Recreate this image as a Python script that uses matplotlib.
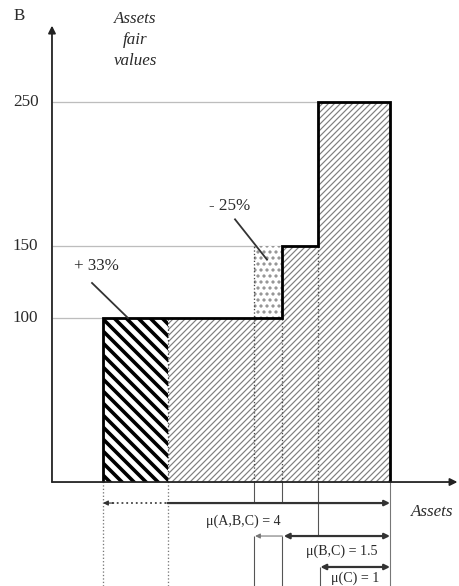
import matplotlib
matplotlib.use("Agg")
import matplotlib.pyplot as plt
import numpy as np

# ---- data ----
step_edges = [0, 2.5, 3, 4]          # asset positions of fair value steps
step_values = [100, 150, 250]        # assets fair values
gain_edges = [0, 0.9]                # +33% block
gain_value = 100
loss_edges = [2.1, 2.5]              # -25% block
loss_range = [100, 150]
segment_edges = [0, 0.9, 2.1, 2.5, 3, 4]
segment_values = [100, 100, 100, 150, 250]
yticks = [100, 150, 250]
mu_labels = ["μ(A,B,C) = 4", "μ(B,C) = 1.5", "μ(C) = 1"]
mu_starts = [0, 2.5, 3]
mu_end = 4

SERIF = "Liberation Serif"
TXT = '#2a2a2a'
DPI = 72
fig = plt.figure(figsize=(459 / DPI, 586 / DPI), dpi=DPI)
ax = fig.add_axes([0, 0, 1, 1])
ax.set_xlim(-1.4355, 4.9617)
ax.set_ylim(-86.1, 320.8)
ax.axis("off")

base = -13.9
yaxis_x = -0.711

def set_hlw(p, w):
    try:
        p.set_hatch_linewidth(w)
    except Exception:
        pass

# gray hatched segments
for i in range(1, len(segment_values)):
    x0, x1 = segment_edges[i], segment_edges[i + 1]
    plt.rcParams['hatch.linewidth'] = 1.2
    bars = ax.bar(x0, segment_values[i] - base, width=x1 - x0, bottom=base,
                  align='edge', facecolor='white', edgecolor='#7f7f7f',
                  hatch='////', linewidth=0, zorder=2)
    for b in bars:
        set_hlw(b, 1.2)

# black hatched gain block
plt.rcParams['hatch.linewidth'] = 3.6
bars = ax.bar(gain_edges[0], gain_value - base, width=gain_edges[1] - gain_edges[0],
              bottom=base, align='edge', facecolor='white', edgecolor='black',
              hatch='\\\\', linewidth=0, zorder=2)
for b in bars:
    set_hlw(b, 3.6)

# dotted loss block
plt.rcParams['hatch.linewidth'] = 2.0
bars = ax.bar(loss_edges[0], loss_range[1] - loss_range[0],
              width=loss_edges[1] - loss_edges[0], bottom=loss_range[0],
              align='edge', facecolor='white', edgecolor='#909090',
              hatch='..', linewidth=0, zorder=2)
for b in bars:
    set_hlw(b, 2.0)

# dotted internal separators
ax.vlines([0.9, 2.5], base, 100, colors='#444444', linestyles=':', lw=1.3, zorder=3)
ax.vlines([2.1, 3], base, [150, 150], colors='#444444', linestyles=':', lw=1.3, zorder=3)

# outline
ax.stairs(step_values, step_edges, baseline=base, color='black', lw=2.8, zorder=4)

# horizontal guide lines
ax.hlines(250, yaxis_x, 3, colors='#bdbdbd', lw=1.3, zorder=1)
ax.hlines(150, yaxis_x, 2.5, colors='#bdbdbd', lw=1.3, zorder=1)
ax.hlines(100, yaxis_x, 0, colors='#bdbdbd', lw=1.3, zorder=1)

# axes with arrows
ax.annotate('', xy=(4.94, base), xytext=(yaxis_x, base),
            arrowprops=dict(arrowstyle='-|>', lw=1.8, color='#222222',
                            mutation_scale=15, shrinkA=0, shrinkB=0), zorder=5)
ax.annotate('', xy=(yaxis_x, 303), xytext=(yaxis_x, base),
            arrowprops=dict(arrowstyle='-|>', lw=1.8, color='#222222',
                            mutation_scale=15, shrinkA=0, shrinkB=0), zorder=5)

for v in yticks:
    ax.text(-0.9, v, str(v), ha='right', va='center', fontsize=17,
            family=SERIF, color=TXT)

ax.text(-1.17, 310, "B", ha='center', va='center', fontsize=17,
        family=SERIF, color=TXT)
ax.text(0.446, 293, "Assets\nfair\nvalues", ha='center', va='center',
        fontsize=17, family=SERIF, style='italic', color=TXT,
        linespacing=1.38)
ax.text(4.585, -34.7, "Assets", ha='center', va='center', fontsize=17,
        family=SERIF, style='italic', color=TXT)

# percentage labels with leaders
ax.text(-0.098, 136.1, "+ 33%", ha='center', va='center', fontsize=17,
        family=SERIF, color=TXT)
ax.plot([-0.153, 0.348], [124.3, 100], color='#333333', lw=1.8, zorder=5)
ax.text(1.771, 178, "- 25%", ha='center', va='center', fontsize=17,
        family=SERIF, color=TXT)
ax.plot([1.84, 2.286], [168.5, 140.5], color='#333333', lw=1.8, zorder=5)

# measure lines below axis
y1, y2, y3 = -28.5, -51.4, -72.9
ybot = -86.1
ax.vlines([0, 0.9], ybot, base, colors='#777777', linestyles=':', lw=1.3)
ax.vlines([2.1, 2.5], y1, base, colors='#555555', lw=1.1)
ax.vlines([2.1, 2.5], ybot, y2, colors='#555555', lw=1.1)
ax.vlines([3], y2, base, colors='#555555', lw=1.1)
ax.vlines([3.03], ybot, y3, colors='#555555', lw=1.1)
ax.vlines([4], ybot, base, colors='#777777', lw=1.1)

# arrow 1
ax.plot([0.12, 0.9], [y1, y1], color='#444444', lw=1.8, linestyle=':')
ax.annotate('', xy=(mu_starts[0], y1), xytext=(0.15, y1),
            arrowprops=dict(arrowstyle='-|>', lw=1.2, color='#333333',
                            mutation_scale=10, shrinkA=0, shrinkB=0))
ax.annotate('', xy=(mu_end, y1), xytext=(0.9, y1),
            arrowprops=dict(arrowstyle='-|>', lw=2.2, color='#333333',
                            mutation_scale=11, shrinkA=0, shrinkB=0))
# arrow 2
ax.annotate('', xy=(2.12, y2), xytext=(2.5, y2),
            arrowprops=dict(arrowstyle='-|>', lw=1.1, color='#777777',
                            mutation_scale=10, shrinkA=0, shrinkB=0))
ax.annotate('', xy=(mu_end, y2), xytext=(mu_starts[1] + 0.02, y2),
            arrowprops=dict(arrowstyle='<|-|>', lw=2.2, color='#333333',
                            mutation_scale=11, shrinkA=0, shrinkB=0))
# arrow 3
ax.annotate('', xy=(mu_end, y3), xytext=(mu_starts[2] + 0.03, y3),
            arrowprops=dict(arrowstyle='<|-|>', lw=2.2, color='#333333',
                            mutation_scale=11, shrinkA=0, shrinkB=0))

ax.text(1.951, -41.0, mu_labels[0], ha='center', va='center', fontsize=14,
        family=SERIF, color=TXT)
ax.text(3.331, -61.8, mu_labels[1], ha='center', va='center', fontsize=14,
        family=SERIF, color=TXT)
ax.text(3.512, -81.0, mu_labels[2], ha='center', va='center', fontsize=14,
        family=SERIF, color=TXT)

fig.savefig("out.png", dpi=DPI)
